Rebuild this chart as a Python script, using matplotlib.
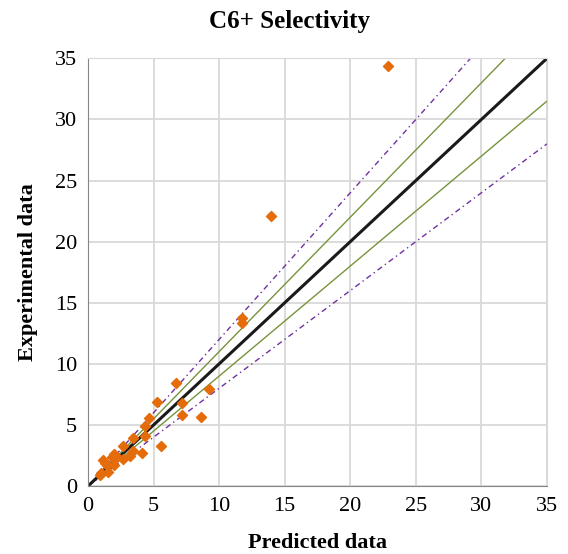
import matplotlib.pyplot as plt
import numpy as np

plt.rcParams['font.family'] = ['Liberation Serif', 'DejaVu Serif']

# predicted vs experimental C6+ selectivity
predicted = [6.69, 9.25, 5.29, 7.14, 7.14, 8.65, 4.68, 4.37, 4.37, 3.41,
             5.59, 2.64, 3.41, 4.09, 3.20, 2.00, 1.81, 2.70, 1.17, 1.30,
             2.00, 1.55, 0.99, 0.92, 11.72, 11.72, 13.96, 22.9, 1.42, 2.2]
experimental = [8.47, 7.93, 6.91, 6.83, 5.82, 5.68, 5.60, 4.92, 4.13, 3.91,
                3.28, 3.28, 2.90, 2.68, 2.49, 2.62, 2.40, 2.21, 2.13, 1.86,
                1.72, 1.17, 1.09, 0.90, 13.74, 13.33, 22.07, 34.4, 1.72, 2.4]

ticks = [0, 5, 10, 15, 20, 25, 30, 35]
xline = np.array([0, 35])

fig = plt.figure(figsize=(5.68, 5.54), dpi=100)
ax = fig.add_axes([0.155, 0.1227, 0.808, 0.772])

ax.plot(xline, 1.2 * xline, color='#7030A0', lw=1, ls=(0, (4, 2.5, 1, 2.5)))
ax.plot(xline, 0.8 * xline, color='#7030A0', lw=1, ls=(0, (4, 2.5, 1, 2.5)))
ax.plot(xline, 1.1 * xline, color='#77933C', lw=1)
ax.plot(xline, 0.9 * xline, color='#77933C', lw=1)
ax.plot(xline, xline, color='#1a1a1a', lw=2.2)
ax.scatter(predicted, experimental, marker='D', s=26, color='#E46C0A', zorder=5)

ax.set_xlim(0, 35)
ax.set_ylim(0, 35)
ax.set_xticks(ticks)
ax.set_yticks(ticks)
ax.tick_params(labelsize=16, length=0, pad=8)
ax.grid(True, color='#D9D9D9', lw=1.3)
ax.set_axisbelow(True)
for s in ['top', 'right']:
    ax.spines[s].set_color('#D9D9D9')
for s in ['left', 'bottom']:
    ax.spines[s].set_color('#868686')

fig.text(0.51, 0.962, 'C6+ Selectivity', fontsize=18, fontweight='bold',
         ha='center', va='center')
ax.set_xlabel('Predicted data', fontsize=16, fontweight='bold', labelpad=12)
ax.set_ylabel('Experimental data', fontsize=16, fontweight='bold', labelpad=12)

fig.savefig('out.png')
